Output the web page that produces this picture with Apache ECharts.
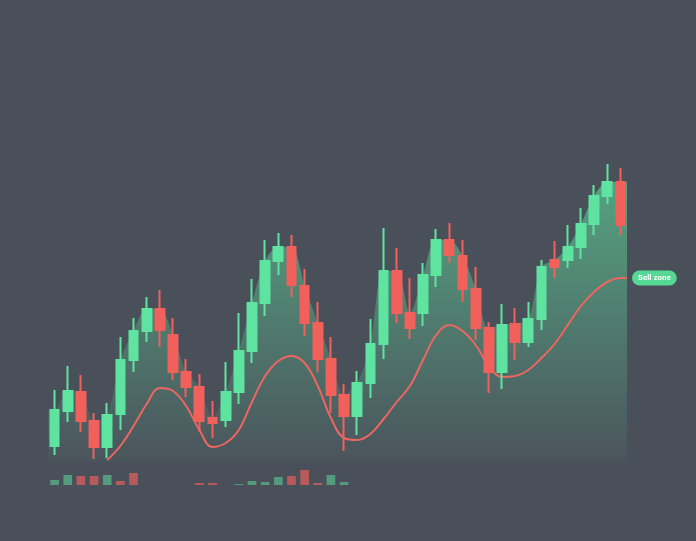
<!DOCTYPE html>
<html>
<head>
<meta charset="utf-8">
<script src="https://cdn.jsdelivr.net/npm/echarts@6/dist/echarts.min.js"></script>
<style>
html,body{margin:0;padding:0;background:#4a505a;}
#chart{width:696px;height:541px;}
</style>
</head>
<body>
<div id="chart"></div>
<script>
// Candles: [open, close, low, high]
var opens  = [54,89,108,79,53,86,140,169,191,165,128,113,82,80,108,149,197,239,253,214,177,141,105,84,117,156,229,187,187,225,260,244,211,172,128,176,158,181,240,240,253,276,304,318];
var closes = [90,109,79,53,85,140,169,191,170,128,113,79,77,108,149,197,239,253,215,177,141,105,84,117,156,229,187,172,225,260,245,211,172,128,175,158,181,233,233,253,276,304,318,275];
var lows   = [45,78,68,41,42,70,128,158,153,120,103,68,62,73,96,137,184,225,203,164,128,87,49,65,102,141,177,161,174,213,237,198,160,107,111,140,153,170,222,232,241,265,296,265];
var highs  = [110,134,125,87,97,163,182,203,210,182,141,126,99,138,187,221,260,267,265,231,198,163,116,129,181,272,252,222,237,271,277,260,233,178,196,192,198,240,259,275,292,315,336,332];
// Smoothed average line
var avg = [null,null,null,null,40,54,74,96,112,109,94,70,53,57,70,98,124,139,144,137,114,82,62,60,66,81,98,114,140,165,175,169,155,134,123,124,130,142,156,175,194,208,218,222];
// Volume
var volumes = [5,10,9,9,10,4,12,null,null,null,null,2,2,null,1,4,3,8,9,15,2,10,3,null,null,null,null,null,null,null,null,null,null,null,null,null,null,null,null,null,null,null,null,null];
var volDir  = [1,1,-1,-1,1,-1,-1,0,0,0,0,-1,-1,0,1,1,1,1,-1,-1,-1,1,1,0,0,0,0,0,0,0,0,0,0,0,0,0,0,0,0,0,0,0,0,0];
var endLabelText = 'Sell zone';

var n = opens.length;
var cats = opens.map(function(_, i){ return String(i + 1); });
var GREEN = '#5ee3a0', RED = '#f2605c';

var candleData = opens.map(function(o, i){ return [o, closes[i], lows[i], highs[i]]; });
var tops = opens.map(function(o, i){ return Math.max(o, closes[i]); });
var areaData = tops.map(function(v, i){ return [i, v]; });
areaData.unshift([-0.5, tops[0]]);
areaData.push([n - 0.5, tops[n - 1]]);
var avgData = [];
avg.forEach(function(v, i){ if (v !== null) avgData.push([i, v]); });
avgData.push([n - 0.5, avg[n - 1]]);
var volData = volumes.map(function(v, i){
  return { value: v, itemStyle: { color: volDir[i] > 0 ? 'rgba(94,227,160,0.5)' : 'rgba(242,96,92,0.65)' } };
});

var chart = echarts.init(document.getElementById('chart'), null, {renderer: 'canvas'});
chart.setOption({
  backgroundColor: '#4a505a',
  animation: false,
  grid: [
    {left: 48, width: 579, top: 140, height: 322},
    {left: 48, width: 579, top: 445, height: 40}
  ],
  xAxis: [
    {type: 'category', data: cats, gridIndex: 0, show: false, boundaryGap: true},
    {type: 'value', gridIndex: 0, min: -0.5, max: n - 0.5, show: false},
    {type: 'category', data: cats, gridIndex: 1, show: false, boundaryGap: true}
  ],
  yAxis: [
    {type: 'value', gridIndex: 0, min: 38, max: 360, show: false},
    {type: 'value', gridIndex: 1, min: 0, max: 40, show: false}
  ],
  series: [
    {
      type: 'line', xAxisIndex: 1, yAxisIndex: 0, data: areaData,
      smooth: 0.3, symbol: 'none', lineStyle: {width: 0},
      areaStyle: {
        origin: 'start',
        color: new echarts.graphic.LinearGradient(0, 0, 0, 1, [
          {offset: 0, color: 'rgba(94,227,160,0.8)'},
          {offset: 1, color: 'rgba(94,227,160,0.04)'}
        ])
      },
      z: 1
    },
    {
      type: 'line', xAxisIndex: 1, yAxisIndex: 0, data: avgData,
      smooth: 0.4, symbol: 'none',
      lineStyle: {color: '#ee6660', width: 2},
      endLabel: {
        show: true, formatter: endLabelText, distance: 5,
        backgroundColor: '#55d893', borderRadius: 8, padding: [4, 6, 3, 6],
        color: '#ffffff', fontSize: 8, fontWeight: 'bold', fontFamily: 'Roboto'
      },
      z: 3
    },
    {
      type: 'candlestick', xAxisIndex: 0, yAxisIndex: 0, data: candleData,
      barWidth: '70%',
      itemStyle: {color: GREEN, color0: RED, borderColor: GREEN, borderColor0: RED, borderWidth: 2},
      z: 4
    },
    {
      type: 'bar', xAxisIndex: 2, yAxisIndex: 1, data: volData,
      barWidth: '66%', z: 2
    }
  ]
});
</script>
</body>
</html>
